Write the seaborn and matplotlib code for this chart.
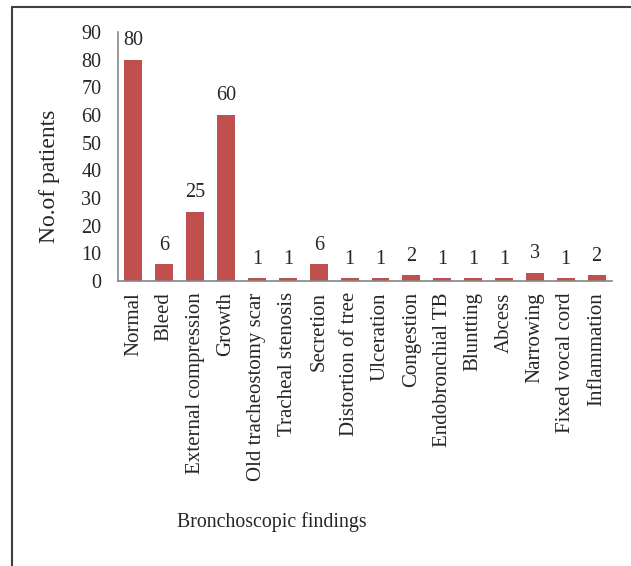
import matplotlib
matplotlib.use("Agg")
import matplotlib.pyplot as plt
import seaborn as sns
import pandas as pd
from matplotlib.lines import Line2D

categories = ["Normal", "Bleed", "External compression", "Growth",
              "Old tracheostomy scar", "Tracheal stenosis", "Secretion",
              "Distortion of tree", "Ulceration", "Congestion",
              "Endobronchial TB", "Bluntting", "Abcess", "Narrowing",
              "Fixed vocal cord", "Inflammation"]
values = [80, 6, 25, 60, 1, 1, 6, 1, 1, 2, 1, 1, 1, 3, 1, 2]
yticks = [0, 10, 20, 30, 40, 50, 60, 70, 80, 90]

df = pd.DataFrame({"finding": categories, "count": values})

sns.set_style("white")
plt.rcParams["font.family"] = ["Liberation Serif", "DejaVu Serif"]

fig = plt.figure(figsize=(6.31, 5.66), dpi=100)
ax = fig.add_axes([0.187, 0.5035, 0.783, 0.44])

sns.barplot(data=df, x="finding", y="count", color="#C0504D", width=0.58,
            saturation=1, ax=ax, edgecolor="none")

ax.set_ylim(0, 90)
ax.set_yticks(yticks)
ax.set_yticklabels([str(t) for t in yticks], fontsize=14.5)
ax.set_xticks(range(len(categories)))
ax.set_xticklabels(categories, rotation=90, fontsize=15)
ax.tick_params(axis="y", length=0, pad=12)
ax.tick_params(axis="x", length=0, pad=8)

for s in ["top", "right"]:
    ax.spines[s].set_visible(False)
for s in ["left", "bottom"]:
    ax.spines[s].set_color("#868686")
    ax.spines[s].set_linewidth(1.2)

for i, v in enumerate(values):
    ax.text(i, v + 5.3, str(v), ha="center", va="baseline", fontsize=14.5)

ax.set_xlabel("")
ax.set_ylabel("")
fig.text(272 / 631, 1 - 522 / 566, "Bronchoscopic findings", ha="center",
         va="center", fontsize=14.3)
fig.text(50 / 631, 1 - 176 / 566, "No.of patients", ha="center",
         va="center", rotation=90, fontsize=17)

fig.add_artist(Line2D([11.5 / 631, 1.0], [1 - 6.5 / 566, 1 - 6.5 / 566],
                      transform=fig.transFigure, color="#404040", lw=1.5))
fig.add_artist(Line2D([11.5 / 631, 11.5 / 631], [0, 1 - 6.5 / 566],
                      transform=fig.transFigure, color="#404040", lw=1.5))

fig.savefig("out.png", dpi=100)
